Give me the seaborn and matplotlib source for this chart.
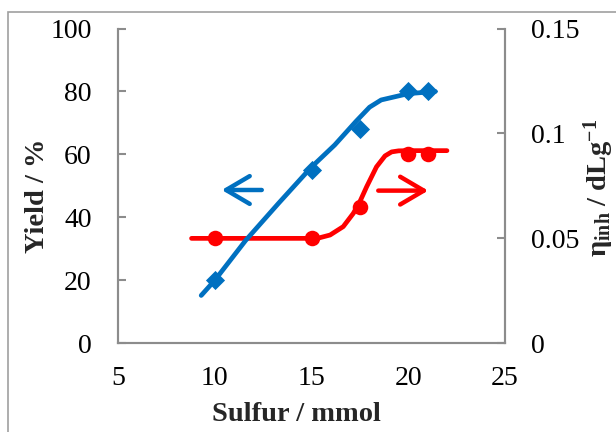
import matplotlib
matplotlib.use("Agg")
import matplotlib.pyplot as plt
from matplotlib.patches import Rectangle
import seaborn as sns
import pandas as pd

# Measured points
sulfur = [10, 15, 17.5, 20, 21]
yield_pct = [20, 55, 68, 80, 80]
eta_inh = [0.050, 0.050, 0.065, 0.090, 0.090]

# Smoothed trend lines
yield_fit_x = [9.3, 10.0, 11.6, 13.3, 15.0, 16.2, 17.3, 18.0, 18.6, 19.3, 20.0, 21.4]
yield_fit_y = [15.2, 20.0, 32.7, 44.5, 56.0, 63.0, 70.5, 75.0, 77.3, 78.3, 79.3, 80.0]
eta_fit_x = [8.8, 15.3, 15.96, 16.64, 17.16, 17.5, 17.85, 18.36, 18.8, 19.14, 19.5, 20.0, 22.0]
eta_fit_y = [0.050, 0.050, 0.0516, 0.0556, 0.0619, 0.0675, 0.0746, 0.0841, 0.0893, 0.0912, 0.0917, 0.0918, 0.0918]

x_ticks = [5, 10, 15, 20, 25]
y_ticks = [0, 20, 40, 60, 80, 100]
eta_ticks = [0, 0.05, 0.1, 0.15]
eta_tick_labels = ["0", "0.05", "0.1", "0.15"]

BLUE = "#0070C0"
RED = "#FF0000"
GREY = "#8c8c8c"

sns.set_style("white")
plt.rcParams["font.family"] = ["Liberation Serif", "DejaVu Serif"]
plt.rcParams["mathtext.fontset"] = "custom"
plt.rcParams["mathtext.rm"] = "Liberation Serif"
plt.rcParams["mathtext.it"] = "Liberation Serif:italic"
plt.rcParams["mathtext.bf"] = "Liberation Serif:bold"

fig = plt.figure(figsize=(6.16, 4.32), dpi=100)
ax = fig.add_axes([118 / 616, 1 - 343.3 / 432, 387 / 616, 314.8 / 432])
ax2 = ax.twinx()

pts = pd.DataFrame({"sulfur": sulfur, "yield": yield_pct, "eta": eta_inh})
yfit = pd.DataFrame({"x": yield_fit_x, "y": yield_fit_y})
efit = pd.DataFrame({"x": eta_fit_x, "y": eta_fit_y})

sns.lineplot(data=yfit, x="x", y="y", ax=ax, color=BLUE, linewidth=3.4,
             sort=False, estimator=None, zorder=3)
sns.scatterplot(data=pts, x="sulfur", y="yield", ax=ax, color=BLUE,
                marker="D", s=95, edgecolor=BLUE, linewidth=0, zorder=4)

sns.lineplot(data=efit, x="x", y="y", ax=ax2, color=RED, linewidth=3.4,
             sort=False, estimator=None, zorder=3)
sns.scatterplot(data=pts, x="sulfur", y="eta", ax=ax2, color=RED,
                marker="o", s=125, edgecolor=RED, linewidth=0, zorder=4)

ax.set_xlim(5, 25)
ax.set_ylim(0, 100)
ax2.set_ylim(0, 0.15)
ax.set_xticks(x_ticks)
ax.set_yticks(y_ticks)
ax2.set_yticks(eta_ticks)
ax2.set_yticklabels(eta_tick_labels)

for a in (ax, ax2):
    a.spines["top"].set_visible(False)
    for side in ("left", "right", "bottom"):
        a.spines[side].set_color(GREY)
        a.spines[side].set_linewidth(1.5)
    a.tick_params(direction="in", length=6, width=1.5, color=GREY,
                  labelsize=20, pad=19, labelcolor="black")
ax.tick_params(axis="x", pad=16)

ax.set_xlabel("Sulfur / mmol", fontsize=20.5, fontweight="bold")
ax.set_ylabel("Yield / %", fontsize=20.5, fontweight="bold")
ax2.set_ylabel(r"$\mathbf{\eta_{inh}\ /\ dLg^{-1}}$", fontsize=20.5)
ax.xaxis.set_label_coords(0.46, -0.185)
ax.yaxis.set_label_coords(-0.175, 0.468)
ax2.yaxis.set_label_coords(1.198, 0.495)

# Direction arrows pointing to each curve's axis
arrow_kw = dict(arrowstyle="->,head_length=17,head_width=10", mutation_scale=1,
                lw=3.2, shrinkA=0, shrinkB=0)
ax.annotate("", xy=(10.36, 48.7), xytext=(12.43, 48.7),
            arrowprops=dict(color=BLUE, **arrow_kw))
ax.annotate("", xy=(21.03, 48.5), xytext=(18.45, 48.5),
            arrowprops=dict(color=RED, **arrow_kw))

ax.set_zorder(ax2.get_zorder() + 1)
ax.patch.set_visible(False)

# Outer frame
fig.patches.append(Rectangle((7.5 / 616, -0.2), 1.2, 1.2 - 11.5 / 432,
                             transform=fig.transFigure, fill=False,
                             edgecolor="#a0a0a0", lw=1.2))

fig.savefig("out.png", dpi=100)
